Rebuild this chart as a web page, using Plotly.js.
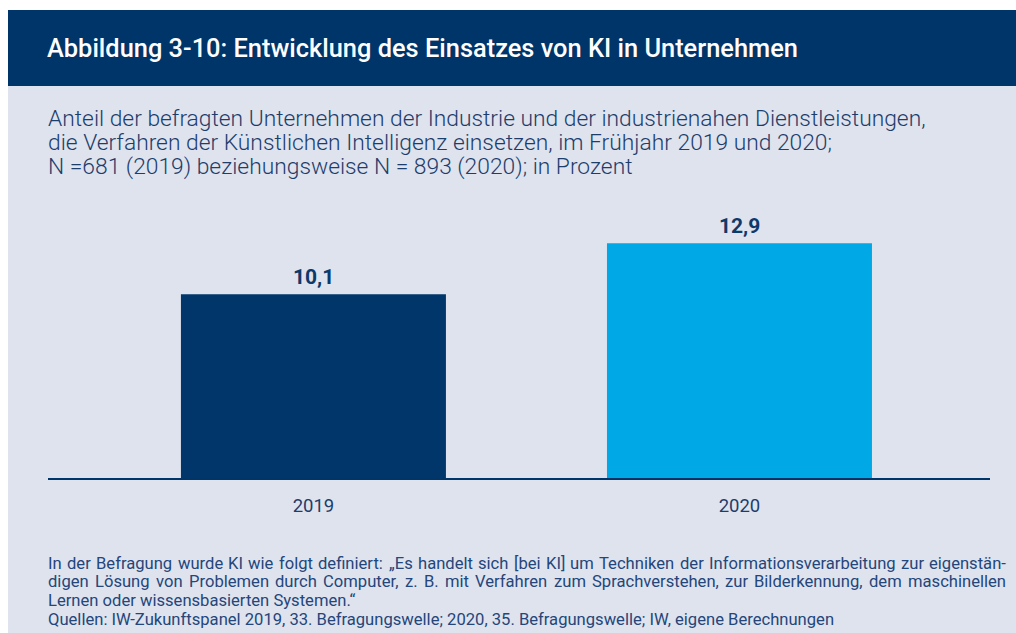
<!DOCTYPE html>
<html>
<head>
<meta charset="utf-8">
<script src="https://cdn.plot.ly/plotly-3.0.1.min.js"></script>
<style>
html,body{margin:0;padding:0;background:#fff;}
#chart{width:1016px;height:633px;}
</style>
</head>
<body>
<div id="chart"></div>
<script>
// ---- data ----
const categories = ['2019', '2020'];
const values = [10.1, 12.9];
const valueLabels = ['10,1', '12,9'];
const barColors = ['#00366a', '#00a9e6'];

const titleText = 'Abbildung 3-10: Entwicklung des Einsatzes von KI in Unternehmen';
const subtitleLines = [
  'Anteil der befragten Unternehmen der Industrie und der industrienahen Dienstleistungen,',
  'die Verfahren der Künstlichen Intelligenz einsetzen, im Frühjahr 2019 und 2020;',
  'N =681 (2019) beziehungsweise N = 893 (2020); in Prozent'
];
const footnoteLines = [
  'In der Befragung wurde KI wie folgt definiert: „Es handelt sich [bei KI] um Techniken der Informationsverarbeitung zur eigenstän-',
  'digen Lösung von Problemen durch Computer, z. B. mit Verfahren zum Sprachverstehen, zur Bilderkennung, dem maschinellen',
  'Lernen oder wissensbasierten Systemen.“',
  'Quellen: IW-Zukunftspanel 2019, 33. Befragungswelle; 2020, 35. Befragungswelle; IW, eigene Berechnungen'
];
const footnoteJustified = [true, true, false, false];

// ---- layout geometry ----
const W = 1016, H = 633;
const M = {l: 48, r: 26, t: 200, b: 155};
const PW = W - M.l - M.r, PH = H - M.t - M.b;
const px = x => (x - M.l) / PW;            // page px -> paper x
const py = y => (H - M.b - y) / PH;        // page px -> paper y

const navy = '#00356a';
const textNavy = '#1d3d6b';
const footNavy = '#24467a';
const panelBg = '#dfe3ee';
const FONT = 'Roboto';

const annotations = [];
// title
annotations.push({
  xref: 'paper', yref: 'paper', x: px(46), y: py(48), xanchor: 'left', yanchor: 'middle',
  text: titleText, showarrow: false, borderpad: 0,
  font: {family: FONT, size: 25.4, color: '#ffffff', weight: 500}
});
// subtitle
subtitleLines.forEach((t, i) => annotations.push({
  xref: 'paper', yref: 'paper', x: px(47), y: py(118 + 24 * i), xanchor: 'left', yanchor: 'middle',
  text: t, showarrow: false, borderpad: 0,
  font: {family: FONT, size: 22.8, color: textNavy, weight: 300}
}));
// footnote (lines 1-2 justified by word placement)
const footSize = 16.6;
const footY = [563, 581.5, 600, 619];
const footLeft = 48, footRight = 1006;
const ctx = document.createElement('canvas').getContext('2d');
ctx.font = '400 ' + footSize + 'px ' + FONT;
footnoteLines.forEach((t, i) => {
  const fnt = {family: FONT, size: footSize, color: footNavy, weight: 400};
  if (!footnoteJustified[i]) {
    annotations.push({xref: 'paper', yref: 'paper', x: px(footLeft), y: py(footY[i]),
      xanchor: 'left', yanchor: 'middle', text: t, showarrow: false, font: fnt,
      borderpad: 0, xshift: -1});
    return;
  }
  const words = t.split(' ');
  const widths = words.map(w => ctx.measureText(w).width);
  const sum = widths.reduce((a, b) => a + b, 0);
  const gap = (footRight - footLeft - sum) / (words.length - 1);
  let xpos = footLeft;
  words.forEach((w, k) => {
    annotations.push({xref: 'paper', yref: 'paper', x: px(xpos), y: py(footY[i]),
      xanchor: 'left', yanchor: 'middle', text: w, showarrow: false, font: fnt,
      borderpad: 0, xshift: -1});
    xpos += widths[k] + gap;
  });
});
// value labels
categories.forEach((c, i) => annotations.push({
  xref: 'x', yref: 'y', x: i, y: values[i], xanchor: 'center', yanchor: 'bottom', yshift: 3,
  text: valueLabels[i], showarrow: false,
  font: {family: FONT, size: 21, color: '#0d3a6b', weight: 700}
}));

const shapes = [
  {type: 'rect', xref: 'paper', yref: 'paper', x0: px(8), x1: px(1016), y0: py(633), y1: py(10),
   fillcolor: panelBg, line: {width: 0}, layer: 'below'},
  {type: 'rect', xref: 'paper', yref: 'paper', x0: px(8), x1: px(1016), y0: py(86), y1: py(10),
   fillcolor: navy, line: {width: 0}, layer: 'below'}
];

const trace = {
  type: 'bar', x: categories, y: values,
  marker: {color: barColors, line: {width: 0}},
  width: 0.622, hoverinfo: 'none'
};

const layout = {
  width: W, height: H,
  margin: M,
  paper_bgcolor: '#ffffff', plot_bgcolor: 'rgba(0,0,0,0)',
  showlegend: false,
  xaxis: {
    type: 'category', range: [-0.623, 1.588], fixedrange: true,
    showline: true, linecolor: navy, linewidth: 2, showgrid: false, zeroline: false,
    ticks: '', ticklabelstandoff: 10,
    tickfont: {family: FONT, size: 18.5, color: textNavy}
  },
  yaxis: {
    range: [0, PH / 18.2], fixedrange: true, visible: false, showgrid: false, zeroline: false
  },
  annotations: annotations,
  shapes: shapes
};

Plotly.newPlot('chart', [trace], layout, {displayModeBar: false, staticPlot: true});
</script>
</body>
</html>
